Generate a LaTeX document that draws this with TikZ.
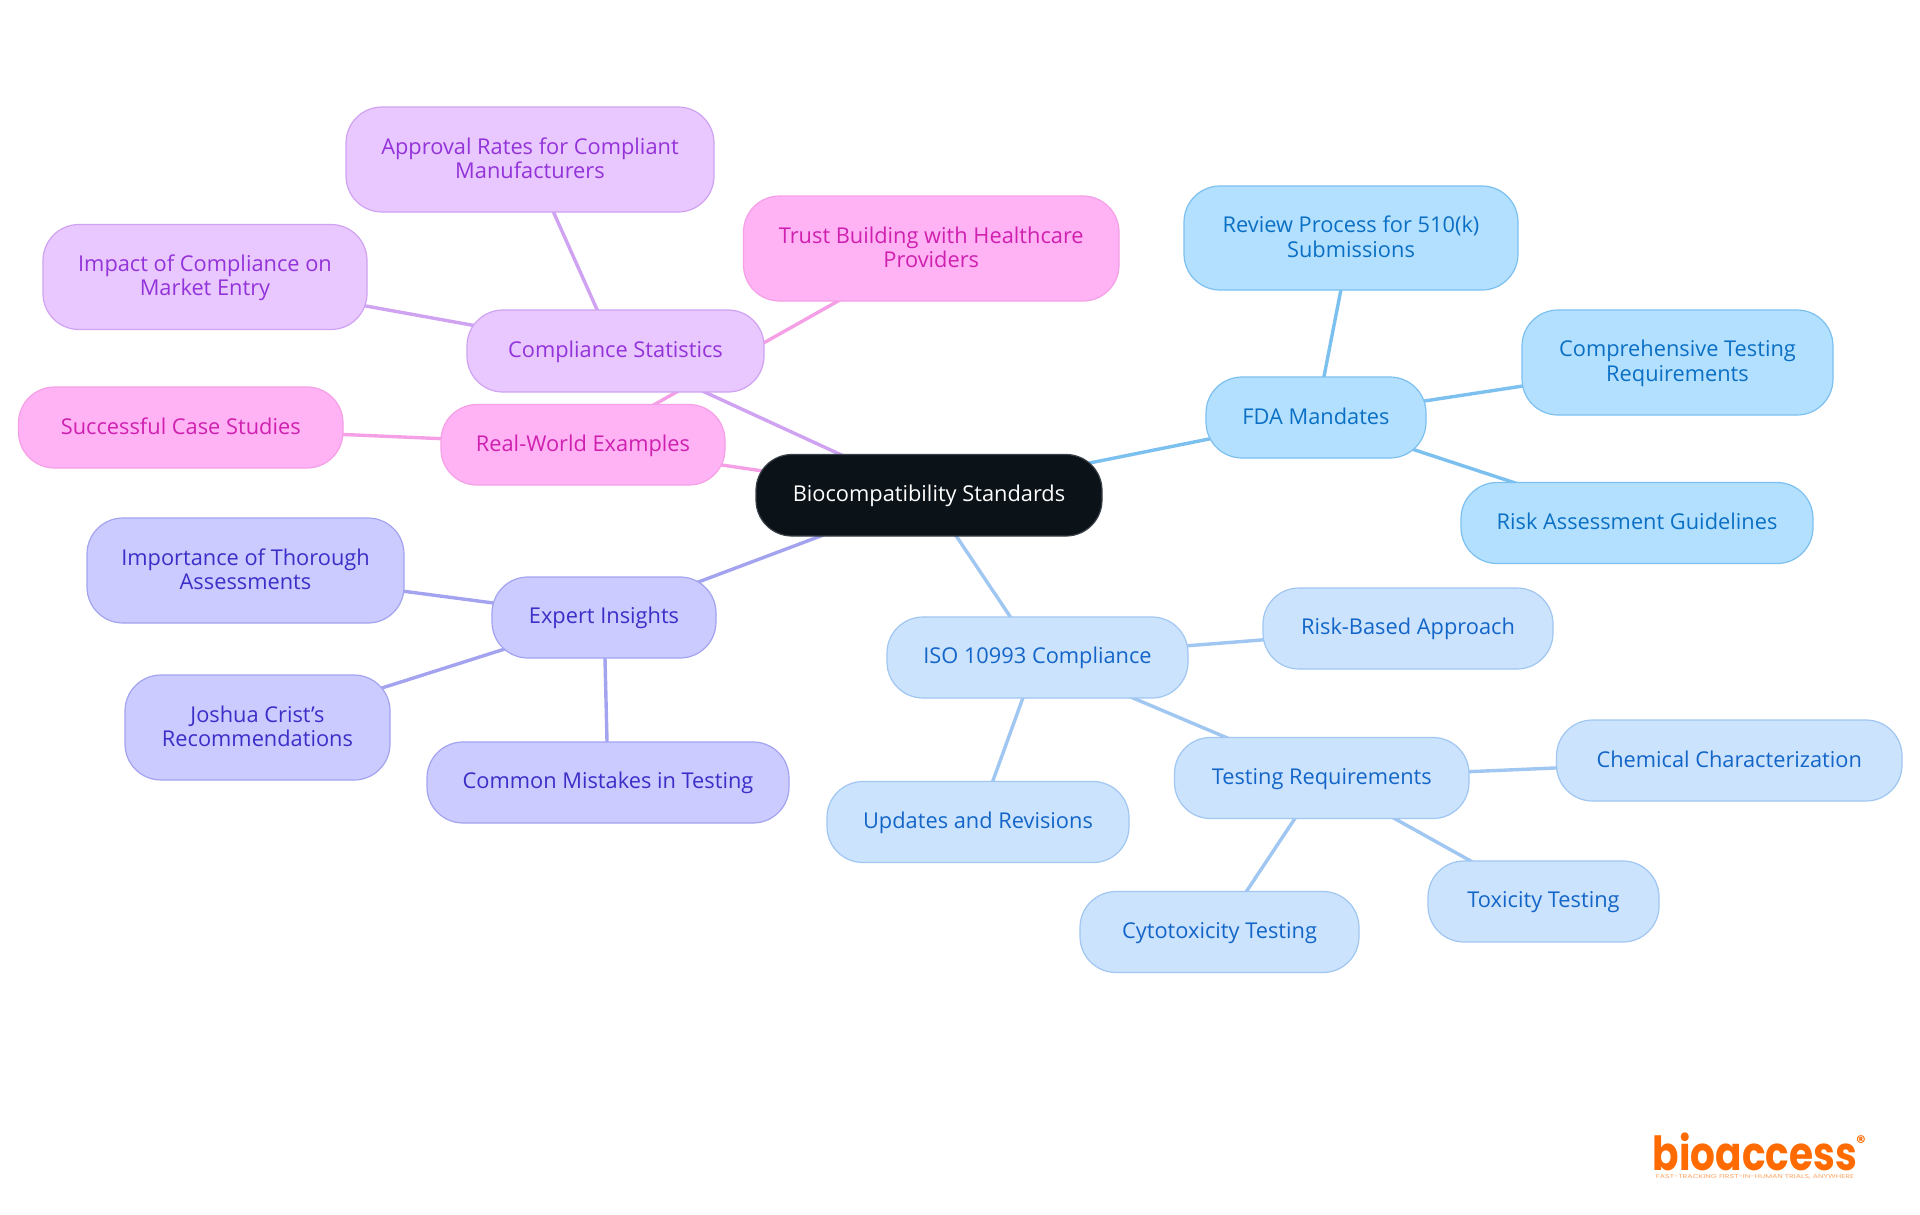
\documentclass[tikz,border=0pt]{standalone}
\usepackage{fontspec}
\setmainfont{Open Sans}
\newfontfamily\logofont{Poppins}
\usetikzlibrary{backgrounds}
\definecolor{rootF}{HTML}{0B1218}
\definecolor{rootD}{HTML}{3A4048}
\definecolor{fdaF}{HTML}{B3E0FF}\definecolor{fdaD}{HTML}{7CC0F0}\definecolor{fdaT}{HTML}{0B70C4}
\definecolor{isoF}{HTML}{CCE3FD}\definecolor{isoD}{HTML}{A0C6F2}\definecolor{isoT}{HTML}{1366C8}
\definecolor{expF}{HTML}{CBCBFF}\definecolor{expD}{HTML}{A3A3F0}\definecolor{expT}{HTML}{3C2FC8}
\definecolor{cmpF}{HTML}{E8C8FF}\definecolor{cmpD}{HTML}{CFA2F2}\definecolor{cmpT}{HTML}{9333D9}
\definecolor{relF}{HTML}{FFB3F5}\definecolor{relD}{HTML}{F5A0E6}\definecolor{relT}{HTML}{CF20B0}
\definecolor{logoC}{HTML}{FF6B00}
\tikzset{
  x=1pt,y=-1pt,
  mm/.style={rounded corners=36pt,line width=1.2pt,inner sep=0pt,align=center,
    font=\fontsize{21.8}{24.5}\selectfont},
  rootbox/.style={mm,fill=rootF,draw=rootD,text=white},
  fdabox/.style={mm,fill=fdaF,draw=fdaD,text=fdaT},
  isobox/.style={mm,fill=isoF,draw=isoD,text=isoT},
  expbox/.style={mm,fill=expF,draw=expD,text=expT},
  cmpbox/.style={mm,fill=cmpF,draw=cmpD,text=cmpT},
  relbox/.style={mm,fill=relF,draw=relD,text=relT},
  link/.style={line width=3.4pt},
}
\newcommand{\mmstrut}{\rule[-4.2pt]{0pt}{22.2pt}}
% name, style, x1,x2,y1,y2 in px, text
\newcommand{\mmnode}[7]{%
  \pgfmathsetmacro{\mmw}{#4-#3}\pgfmathsetmacro{\mmh}{#6-#5}%
  \pgfmathsetmacro{\mmx}{(#3+#4)/2}\pgfmathsetmacro{\mmy}{(#5+#6)/2}%
  \node[#2,minimum width=\mmw pt,minimum height=\mmh pt] (#1) at (\mmx,\mmy) {\mmstrut #7\mmstrut};}
\begin{document}
\begin{tikzpicture}
\useasboundingbox (0,0) rectangle (1920,1215);
\mmnode{root}{rootbox}{756}{1102}{454.5}{536}{Biocompatibility Standards}
\mmnode{fda}{fdabox}{1206}{1426}{377}{458}{FDA Mandates}
\mmnode{review}{fdabox}{1184}{1518}{186}{290}{Review Process for 510(k)\\Submissions}
\mmnode{compreh}{fdabox}{1522}{1833}{310}{415}{Comprehensive Testing\\Requirements}
\mmnode{riskg}{fdabox}{1461}{1813}{482.5}{563.5}{Risk Assessment Guidelines}
\mmnode{iso}{isobox}{887}{1188}{617}{698}{ISO 10993 Compliance}
\mmnode{riskb}{isobox}{1263}{1553}{588}{669}{Risk-Based Approach}
\mmnode{testing}{isobox}{1174.5}{1469}{737.5}{818.5}{Testing Requirements}
\mmnode{chem}{isobox}{1556.5}{1902}{720}{801}{Chemical Characterization}
\mmnode{tox}{isobox}{1428}{1659}{861}{942}{Toxicity Testing}
\mmnode{cyto}{isobox}{1080}{1359}{891.5}{972.5}{Cytotoxicity Testing}
\mmnode{updates}{isobox}{827}{1129}{781.5}{862.5}{Updates and Revisions}
\mmnode{expert}{expbox}{492}{716}{577}{658}{Expert Insights}
\mmnode{import}{expbox}{87}{404}{518}{623}{Importance of Thorough\\Assessments}
\mmnode{joshua}{expbox}{125}{390}{675}{780}{Joshua Crist's\\Recommendations}
\mmnode{common}{expbox}{427}{789}{742}{823}{Common Mistakes in Testing}
\mmnode{stats}{cmpbox}{467}{764}{310}{392}{Compliance Statistics}
\mmnode{approval}{cmpbox}{346}{714}{107}{212}{Approval Rates for Compliant\\Manufacturers}
\mmnode{impact}{cmpbox}{43}{367}{224.5}{329.5}{Impact of Compliance on\\Market Entry}
\mmnode{real}{relbox}{441}{725}{404.5}{485}{Real-World Examples}
\mmnode{cases}{relbox}{18.5}{343}{387}{468}{Successful Case Studies}
\mmnode{trust}{relbox}{743.5}{1119}{196}{301}{Trust Building with Healthcare\\Providers}
\node[font=\logofont\bfseries\fontsize{47}{47}\selectfont,text=logoC,inner sep=0pt,xscale=0.83] (logo) at (1755,1152) {bioaccess};
\node[font=\logofont\bfseries\fontsize{18}{18}\selectfont,text=logoC,inner sep=0pt] (logoreg) at (1861,1142) {\textregistered};
\node[font=\logofont\fontsize{5.6}{6}\selectfont,text=logoC!60,inner sep=0pt,xscale=1.4] (logotag) at (1755,1177) {FAST-TRACKING FIRST-IN-HUMAN TRIALS, ANYWHERE};
\begin{scope}[on background layer]
\fill[white] (0,0) rectangle (1920,1215);
\draw[link,fdaD] (root.center) -- (fda.center);
\draw[link,fdaD] (fda.center) -- (review.center);
\draw[link,fdaD] (fda.center) -- (compreh.center);
\draw[link,fdaD] (fda.center) -- (riskg.center);
\draw[link,isoD] (root.center) -- (iso.center);
\draw[link,isoD] (iso.center) -- (riskb.center);
\draw[link,isoD] (iso.center) -- (testing.center);
\draw[link,isoD] (iso.center) -- (updates.center);
\draw[link,isoD] (testing.center) -- (chem.center);
\draw[link,isoD] (testing.center) -- (tox.center);
\draw[link,isoD] (testing.center) -- (cyto.center);
\draw[link,expD] (root.center) -- (expert.center);
\draw[link,expD] (expert.center) -- (import.center);
\draw[link,expD] (expert.center) -- (joshua.center);
\draw[link,expD] (expert.center) -- (common.center);
\draw[link,cmpD] (root.center) -- (stats.center);
\draw[link,cmpD] (stats.center) -- (approval.center);
\draw[link,cmpD] (stats.center) -- (impact.center);
\draw[link,relD] (root.center) -- (real.center);
\draw[link,relD] (real.center) -- (cases.center);
\draw[link,relD] (real.center) -- (trust.center);
\end{scope}
\end{tikzpicture}
\end{document}
